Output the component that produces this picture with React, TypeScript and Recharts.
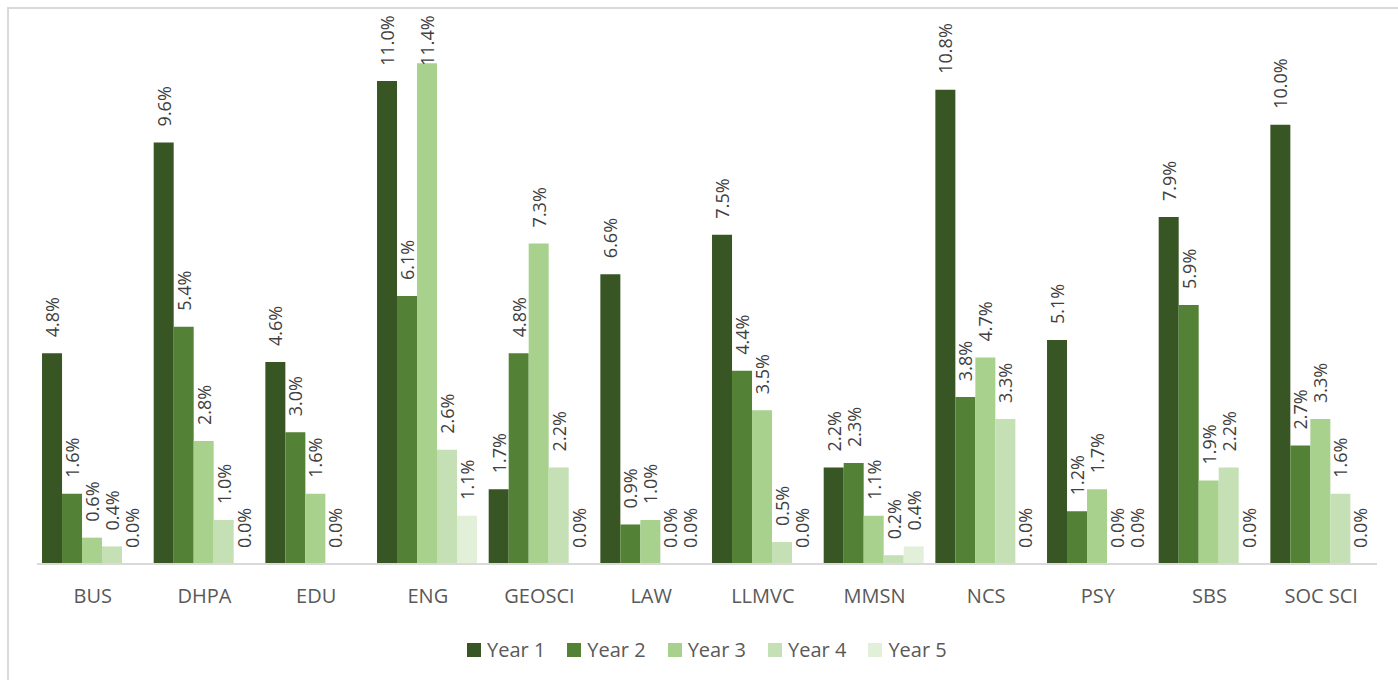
import React from 'react';
import { BarChart, Bar, XAxis, YAxis, LabelList } from 'recharts';

const categories = ['BUS', 'DHPA', 'EDU', 'ENG', 'GEOSCI', 'LAW', 'LLMVC', 'MMSN', 'NCS', 'PSY', 'SBS', 'SOC SCI'];

const year1 = [4.8, 9.6, 4.6, 11.0, 1.7, 6.6, 7.5, 2.2, 10.8, 5.1, 7.9, 10.0];
const year2 = [1.6, 5.4, 3.0, 6.1, 4.8, 0.9, 4.4, 2.3, 3.8, 1.2, 5.9, 2.7];
const year3 = [0.6, 2.8, 1.6, 11.4, 7.3, 1.0, 3.5, 1.1, 4.7, 1.7, 1.9, 3.3];
const year4 = [0.4, 1.0, 0.0, 2.6, 2.2, 0.0, 0.5, 0.2, 3.3, 0.0, 2.2, 1.6];
const year5 = [0.0, 0.0, null, 1.1, 0.0, 0.0, 0.0, 0.4, 0.0, 0.0, 0.0, 0.0];

const seriesNames = ['Year 1', 'Year 2', 'Year 3', 'Year 4', 'Year 5'];
const seriesColors = ['#375623', '#538135', '#a9d18e', '#c5e0b4', '#e2f0d9'];

const data = categories.map((name, i) => ({
  name,
  y1: year1[i],
  y2: year2[i],
  y3: year3[i],
  y4: year4[i],
  y5: year5[i],
}));

const keys = ['y1', 'y2', 'y3', 'y4', 'y5'];
const FONT = '"Open Sans", "Noto Sans", sans-serif';
const LABEL_SIZE = 18;

// rough text length so labels near the top stay inside the chart area (like Excel does)
const textLen = (s: string) => {
  let w = 0;
  for (const c of s) w += c === '.' ? 0.266 : c === '%' ? 0.838 : 0.572;
  return w * LABEL_SIZE;
};

const RotatedLabel = (props: any) => {
  const { x, y, width, value } = props;
  if (value === null || value === undefined) return null;
  const txt = `${Number(value).toFixed(1)}%`;
  const cx = Number(x) + Number(width) / 2;
  const ty = Math.max(Number(y) - 16, 15 + textLen(txt));
  return (
    <text
      x={cx}
      y={ty}
      transform={`rotate(-90 ${cx} ${ty})`}
      textAnchor="start"
      dominantBaseline="central"
      fontSize={LABEL_SIZE}
      fontFamily={FONT}
      fill="#404040"
    >
      {txt}
    </text>
  );
};

export default function App() {
  return (
    <div style={{ position: 'absolute', left: 0, top: 0, width: 1398, height: 680, overflow: 'hidden', background: '#fff' }}>
      <div
        style={{
          position: 'absolute',
          left: 7,
          top: 7,
          width: 1500,
          height: 800,
          borderLeft: '2px solid #d9d9d9',
          borderTop: '2px solid #d9d9d9',
        }}
      />
      <div style={{ position: 'absolute', left: 0, top: 0 }}>
        <BarChart
          width={1398}
          height={680}
          data={data}
          margin={{ top: 37, right: 21, bottom: 56, left: 37 }}
          barCategoryGap="4.5%"
          barGap={0}
        >
          <XAxis
            dataKey="name"
            height={60}
            axisLine={{ stroke: '#d9d9d9', strokeWidth: 2 }}
            tickLine={false}
            tickMargin={19}
            interval={0}
            tick={{ fill: '#595959', fontSize: 20, fontFamily: FONT }}
          />
          <YAxis hide domain={[0, 12]} />
          {keys.map((k, i) => (
            <Bar
              key={k}
              dataKey={k}
              name={seriesNames[i]}
              fill={seriesColors[i]}
              minPointSize={(v: any) => (v === 0 ? 0.01 : 0)}
              isAnimationActive={false}
            >
              <LabelList dataKey={k} content={<RotatedLabel />} />
            </Bar>
          ))}
        </BarChart>
      </div>
      {/* legend */}
      <div
        style={{
          position: 'absolute',
          left: 467,
          top: 636,
          display: 'flex',
          alignItems: 'center',
          fontFamily: FONT,
          fontSize: 20,
          color: '#595959',
        }}
      >
        {seriesNames.map((n, i) => (
          <div key={n} style={{ display: 'flex', alignItems: 'center', marginRight: 22 }}>
            <span style={{ width: 14, height: 14, background: seriesColors[i], display: 'inline-block', marginRight: 6 }} />
            <span>{n}</span>
          </div>
        ))}
      </div>
    </div>
  );
}
